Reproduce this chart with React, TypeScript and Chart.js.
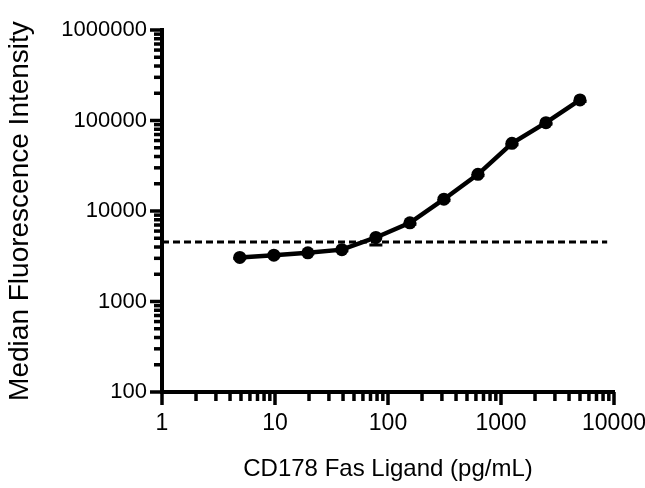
import { useEffect, useRef } from 'react';
import { Chart, registerables } from 'chart.js';

Chart.register(...registerables);

// ---- data ----
const concentrations = [4.88, 9.77, 19.53, 39.06, 78.13, 156.25, 312.5, 625, 1250, 2500, 5000];
const mfi = [3070, 3250, 3450, 3740, 5100, 7400, 13500, 25400, 55900, 94600, 168600];
const mfiErrorBelow = [60, 70, 80, 110, 900, 250, 450, 800, 1800, 3000, 6000];
const thresholdX = [1, 8700];
const thresholdY = 4550;

// ---- axes / tick labels ----
const xDecades = [1, 10, 100, 1000, 10000];
const yDecades = [100, 1000, 10000, 100000, 1000000];
const minorMultiples = [2, 3, 4, 5, 6, 7, 8, 9];
const xTitle = 'CD178 Fas Ligand (pg/mL)';
const yTitle = 'Median Fluorescence Intensity';

const FONT = "'Liberation Sans', Arial, Helvetica, sans-serif";

function buildTicks(decades: number[]) {
  const out: number[] = [];
  decades.forEach((d, i) => {
    out.push(d);
    if (i < decades.length - 1) minorMultiples.forEach((m) => out.push(d * m));
  });
  return out;
}

function isMajor(v: number) {
  const l = Math.log10(v);
  return Math.abs(l - Math.round(l)) < 1e-9;
}

const tickMarks = {
  id: 'tickMarks',
  afterDraw(chart: any) {
    const { ctx, chartArea } = chart;
    const xs = chart.scales.x;
    const ys = chart.scales.y;
    ctx.save();
    ctx.strokeStyle = '#000';
    ctx.lineWidth = 3.5;
    ctx.lineCap = 'butt';
    xs.ticks.forEach((t: any) => {
      const px = xs.getPixelForValue(t.value);
      const len = isMajor(t.value) ? 13 : 9;
      ctx.beginPath();
      ctx.moveTo(px, chartArea.bottom);
      ctx.lineTo(px, chartArea.bottom + len);
      ctx.stroke();
    });
    ys.ticks.forEach((t: any) => {
      const py = ys.getPixelForValue(t.value);
      const len = isMajor(t.value) ? 12 : 8;
      ctx.beginPath();
      ctx.moveTo(chartArea.left, py);
      ctx.lineTo(chartArea.left - len, py);
      ctx.stroke();
    });
    ctx.restore();
  },
};

const errorBars = {
  id: 'errorBars',
  beforeDatasetsDraw(chart: any) {
    const { ctx } = chart;
    const xs = chart.scales.x;
    const ys = chart.scales.y;
    ctx.save();
    ctx.strokeStyle = '#000';
    ctx.lineWidth = 3;
    concentrations.forEach((c, i) => {
      const e = mfiErrorBelow[i];
      if (!e) return;
      const x = xs.getPixelForValue(c);
      const yMid = ys.getPixelForValue(mfi[i]);
      const yLo = ys.getPixelForValue(mfi[i] - e);
      ctx.beginPath();
      ctx.moveTo(x, yMid);
      ctx.lineTo(x, yLo);
      ctx.moveTo(x - 6.5, yLo);
      ctx.lineTo(x + 6.5, yLo);
      ctx.stroke();
    });
    ctx.restore();
  },
};

export default function App() {
  const canvasRef = useRef<HTMLCanvasElement | null>(null);

  useEffect(() => {
    document.body.style.margin = '0';
    const canvas = canvasRef.current;
    if (!canvas) return;

    const chart = new Chart(canvas, {
      type: 'scatter',
      data: {
        datasets: [
          {
            label: 'MFI',
            data: concentrations.map((c, i) => ({ x: c, y: mfi[i] })),
            showLine: true,
            borderColor: '#000',
            backgroundColor: '#000',
            borderWidth: 4.5,
            pointRadius: 6.5,
            pointHoverRadius: 6.5,
            pointBorderWidth: 0,
            pointBackgroundColor: '#000',
            order: 1,
          },
          {
            label: 'Threshold',
            data: thresholdX.map((x) => ({ x, y: thresholdY })),
            showLine: true,
            borderColor: '#000',
            borderWidth: 3,
            borderDash: [7, 4],
            pointRadius: 0,
            order: 2,
          },
        ],
      },
      options: {
        animation: false,
        responsive: true,
        maintainAspectRatio: false,
        layout: { padding: { top: 30, right: 31, bottom: 0, left: 0 } },
        plugins: { legend: { display: false }, tooltip: { enabled: false } },
        scales: {
          x: {
            type: 'logarithmic',
            position: 'bottom',
            min: 1,
            max: 10000,
            afterBuildTicks: (scale: any) => {
              scale.ticks = buildTicks(xDecades).map((value) => ({ value }));
            },
            afterFit: (scale: any) => {
              scale.height = 96;
              scale.paddingLeft = 0;
              scale.paddingRight = 0;
            },
            grid: { display: false, drawTicks: false },
            border: { display: true, color: '#000', width: 4 },
            ticks: {
              autoSkip: false,
              maxRotation: 0,
              minRotation: 0,
              padding: 18,
              color: '#000',
              font: { family: FONT, size: 23 },
              callback: (v: any) => (isMajor(Number(v)) ? String(Number(v)) : ''),
            },
            title: {
              display: true,
              text: xTitle,
              color: '#000',
              font: { family: FONT, size: 24 },
              padding: { top: 0, bottom: 4 },
            },
          },
          y: {
            type: 'logarithmic',
            position: 'left',
            min: 100,
            max: 1000000,
            afterBuildTicks: (scale: any) => {
              scale.ticks = buildTicks(yDecades).map((value) => ({ value }));
            },
            afterFit: (scale: any) => {
              scale.width = 162;
              scale.paddingTop = 0;
              scale.paddingBottom = 0;
            },
            grid: { display: false, drawTicks: false },
            border: { display: true, color: '#000', width: 4 },
            ticks: {
              autoSkip: false,
              padding: 15,
              color: '#000',
              font: { family: FONT, size: 22 },
              callback: (v: any) => (isMajor(Number(v)) ? String(Number(v)) : ''),
            },
            title: {
              display: true,
              text: yTitle,
              color: '#000',
              font: { family: FONT, size: 28 },
              padding: { top: 3, bottom: 0 },
            },
          },
        },
      },
      plugins: [tickMarks, errorBars],
    } as any);

    return () => chart.destroy();
  }, []);

  return (
    <div style={{ position: 'fixed', left: 0, top: 0, width: 645, height: 488, background: '#fff' }}>
      <canvas ref={canvasRef} />
    </div>
  );
}
